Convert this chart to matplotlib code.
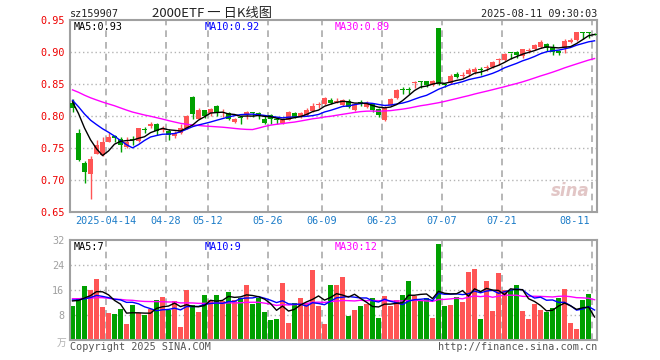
import numpy as np
import pandas as pd
import matplotlib
matplotlib.use("Agg")
import matplotlib.pyplot as plt

plt.rcParams['font.family'] = ['DejaVu Sans Mono', 'Noto Sans CJK SC']

# ---- data (2025-04-03 .. 2025-08-11, 88 trading days) ----
opens = [0.821, 0.774, 0.727, 0.710, 0.741, 0.739, 0.760, 0.768, 0.764, 0.752,
         0.764, 0.761, 0.779, 0.784, 0.788, 0.778, 0.777, 0.768, 0.774, 0.781,
         0.829, 0.796, 0.809, 0.804, 0.815, 0.805, 0.804, 0.791, 0.799, 0.801,
         0.806, 0.804, 0.796, 0.801, 0.795, 0.789, 0.794, 0.804, 0.799, 0.802,
         0.808, 0.817, 0.819, 0.8255, 0.822, 0.817, 0.824, 0.810, 0.821, 0.814,
         0.818, 0.811, 0.794, 0.817, 0.828, 0.841, 0.841, 0.852, 0.854, 0.854,
         0.849, 0.938, 0.850, 0.851, 0.866, 0.863, 0.865, 0.868, 0.873, 0.875,
         0.877, 0.888, 0.888, 0.899, 0.900, 0.893, 0.902, 0.905, 0.908, 0.912,
         0.906, 0.902, 0.906, 0.916, 0.919, 0.931, 0.931, 0.928]
highs = [0.826, 0.780, 0.730, 0.738, 0.763, 0.767, 0.773, 0.770, 0.767, 0.767,
         0.768, 0.782, 0.783, 0.790, 0.789, 0.785, 0.779, 0.777, 0.787, 0.802,
         0.832, 0.813, 0.810, 0.812, 0.817, 0.811, 0.806, 0.797, 0.800, 0.808,
         0.807, 0.806, 0.800, 0.803, 0.797, 0.797, 0.808, 0.806, 0.806, 0.812,
         0.820, 0.822, 0.830, 0.828, 0.828, 0.826, 0.827, 0.820, 0.825, 0.823,
         0.820, 0.813, 0.816, 0.828, 0.842, 0.845, 0.845, 0.854, 0.854, 0.855,
         0.856, 0.938, 0.851, 0.866, 0.869, 0.868, 0.875, 0.876, 0.876, 0.880,
         0.886, 0.890, 0.898, 0.899, 0.901, 0.905, 0.906, 0.912, 0.918, 0.914,
         0.912, 0.903, 0.920, 0.922, 0.932, 0.931, 0.931, 0.929]
lows = [0.806, 0.729, 0.696, 0.670, 0.740, 0.738, 0.759, 0.760, 0.743, 0.750,
        0.755, 0.760, 0.774, 0.781, 0.771, 0.775, 0.763, 0.766, 0.772, 0.779,
        0.796, 0.795, 0.797, 0.800, 0.800, 0.799, 0.793, 0.789, 0.787, 0.795,
        0.798, 0.796, 0.788, 0.787, 0.788, 0.788, 0.793, 0.797, 0.797, 0.800,
        0.806, 0.813, 0.817, 0.818, 0.820, 0.815, 0.812, 0.808, 0.815, 0.812,
        0.806, 0.799, 0.792, 0.815, 0.827, 0.835, 0.835, 0.843, 0.843, 0.845,
        0.847, 0.849, 0.845, 0.850, 0.859, 0.860, 0.863, 0.866, 0.864, 0.870,
        0.875, 0.880, 0.886, 0.889, 0.890, 0.891, 0.898, 0.903, 0.906, 0.901,
        0.896, 0.896, 0.898, 0.914, 0.917, 0.921, 0.922, 0.926]
closes = [0.813, 0.731, 0.713, 0.733, 0.754, 0.760, 0.767, 0.766, 0.755, 0.760,
          0.763, 0.782, 0.778, 0.787, 0.777, 0.780, 0.770, 0.774, 0.782, 0.800,
          0.803, 0.809, 0.800, 0.811, 0.804, 0.806, 0.795, 0.796, 0.797, 0.806,
          0.805, 0.800, 0.789, 0.795, 0.794, 0.794, 0.806, 0.798, 0.804, 0.810,
          0.816, 0.818, 0.828, 0.820, 0.824, 0.825, 0.814, 0.818, 0.820, 0.821,
          0.809, 0.801, 0.813, 0.826, 0.840, 0.840, 0.840, 0.853, 0.853, 0.848,
          0.855, 0.850, 0.849, 0.863, 0.861, 0.864, 0.872, 0.874, 0.872, 0.876,
          0.885, 0.889, 0.897, 0.898, 0.895, 0.904, 0.903, 0.911, 0.915, 0.907,
          0.900, 0.899, 0.917, 0.919, 0.931, 0.930, 0.930, 0.927]
# up / down flag (1 = red) as shown by bar colours
up = [0, 0, 0, 1, 1, 1, 1, 0, 0, 1, 0, 1, 0, 1, 0, 1, 0, 1, 1, 1,
      0, 1, 0, 1, 0, 1, 0, 1, 0, 1, 0, 0, 0, 0, 0, 1, 1, 0, 1, 1,
      1, 1, 1, 0, 1, 1, 0, 1, 0, 1, 0, 0, 1, 1, 1, 0, 0, 1, 0, 0,
      1, 0, 0, 1, 0, 1, 1, 1, 0, 1, 1, 1, 1, 0, 0, 1, 1, 1, 1, 0,
      0, 0, 1, 1, 1, 0, 0, 0]
# volume, 10k lots
volume = [11.0, 13.5, 17.4, 15.9, 19.6, 10.7, 8.7, 8.4, 10.0, 5.2,
          11.3, 8.6, 7.9, 9.9, 12.9, 13.9, 9.7, 12.6, 4.3, 15.9,
          11.3, 9.1, 14.5, 12.7, 14.5, 12.6, 15.5, 12.9, 13.5, 17.7,
          11.6, 13.5, 9.1, 6.5, 6.8, 18.4, 5.5, 11.9, 13.5, 11.6,
          22.5, 11.0, 5.2, 17.7, 17.7, 20.3, 7.8, 9.7, 11.0, 11.6,
          13.5, 7.1, 14.2, 11.0, 12.9, 14.5, 19.0, 14.2, 12.4, 13.5,
          7.1, 30.8, 11.0, 11.3, 13.8, 12.1, 21.9, 22.8, 6.8, 19.0,
          9.4, 21.3, 16.1, 16.1, 17.7, 9.4, 6.8, 11.6, 9.7, 9.1,
          10.4, 13.5, 16.4, 5.3, 3.4, 12.9, 14.8, 0.4]
# earlier sessions, only needed to warm up the moving averages
prev_close = [0.845, 0.850, 0.853, 0.856, 0.858, 0.855, 0.852, 0.857, 0.860, 0.856,
              0.851, 0.848, 0.845, 0.843, 0.846, 0.842, 0.840, 0.844, 0.841, 0.838,
              0.832, 0.826, 0.829, 0.823, 0.825, 0.822, 0.826, 0.825, 0.824]
prev_vol = [14.1, 12.5, 15.8, 13.2, 11.9, 14.6, 16.3, 12.8, 11.4, 13.7,
            15.2, 12.1, 10.9, 13.5, 14.8, 12.6, 11.8, 13.9, 15.1, 12.4,
            13.0, 14.2, 11.6, 12.9, 13.8, 12.7, 13.4, 12.2, 13.2]

tick_pos = [6, 16, 23, 33, 42, 52, 62, 72, 87]
tick_labels = ['2025-04-14', '04-28', '05-12', '05-26', '06-09', '06-23',
               '07-07', '07-21', '08-11']

RED = '#ff5555'
GREEN = '#00a000'
GRID = '#b4b4b4'
BORDER = '#a0a0a0'

n = len(closes)
x = np.arange(n)
cx = x + 0.42

o = np.array(opens); c = np.array(closes); h = np.array(highs); lo = np.array(lows)
cols = [RED if u else GREEN for u in up]

allc = pd.Series(prev_close + closes)
ma5 = allc.rolling(5).mean().values[-n:]
ma10 = allc.rolling(10).mean().values[-n:]
ma30 = allc.rolling(30).mean().values[-n:]
allv = pd.Series(prev_vol + volume)
vma5 = allv.rolling(5).mean().values[-n:]
vma10 = allv.rolling(10).mean().values[-n:]
vma30 = allv.rolling(30).mean().values[-n:]

W, H = 660, 360
fig = plt.figure(figsize=(W / 100, H / 100), dpi=100)
ax1 = fig.add_axes([70 / W, 1 - 212 / H, 527 / W, 192 / H])
ax2 = fig.add_axes([70 / W, 1 - 340 / H, 527 / W, 100 / H])

for ax in (ax1, ax2):
    ax.set_xlim(0, 87.83)
    for s in ax.spines.values():
        s.set_color(BORDER)
        s.set_linewidth(1.5)
    for p in tick_pos:
        ax.axvline(p, color='#aaaaaa', lw=1.2, ls=(0, (4, 3)), zorder=0)
    ax.set_xticks([])

# ---- price panel ----
ax1.set_ylim(0.65, 0.95)
for yv in [0.70, 0.75, 0.80, 0.85, 0.90]:
    ax1.axhline(yv, color=GRID, lw=1, ls=(0, (1, 2)), zorder=0)
ax1.set_yticks([0.65, 0.70, 0.75, 0.80, 0.85, 0.90, 0.95])
ax1.set_yticklabels(['%.2f' % v for v in ax1.get_yticks()])
ax1.tick_params(axis='y', length=0, pad=4, labelsize=7.3, labelcolor='#ee0000')

ax1.vlines(cx, lo, h, colors=cols, lw=1, zorder=2)
body = np.maximum(np.abs(c - o), 0.0016)
ax1.bar(x, body, bottom=np.minimum(o, c), width=0.78, align='edge',
        color=cols, linewidth=0, zorder=3)
ax1.plot(cx, ma30, color='#ff00ff', lw=1, zorder=4)
ax1.plot(cx, ma10, color='#0000ff', lw=1, zorder=4)
ax1.plot(cx, ma5, color='black', lw=1, zorder=5)

for p, t in zip(tick_pos, tick_labels):
    ha = 'right' if p == tick_pos[-1] else 'center'
    xp = p - 0.3 if ha == 'right' else p
    ax1.text(xp, -0.045, t, transform=ax1.get_xaxis_transform(), ha=ha, va='center',
             fontsize=7.3, color='#1c7cc8')

ax1.text(0.007, 0.965, 'MA5:%.2f' % ma5[-1], transform=ax1.transAxes, fontsize=7.3,
         color='black', va='center')
ax1.text((205 - 70) / 527, 0.965, 'MA10:%.2f' % ma10[-1], transform=ax1.transAxes,
         fontsize=7.3, color='#0000ff', va='center')
ax1.text((335 - 70) / 527, 0.965, 'MA30:%.2f' % ma30[-1], transform=ax1.transAxes,
         fontsize=7.3, color='#ff00ff', va='center')
ax1.text(0.985, 0.06, 'sina', transform=ax1.transAxes, ha='right', va='bottom',
         fontsize=12, fontstyle='italic', fontweight='bold', family='DejaVu Sans',
         color='#e2c6c6', zorder=1)

# ---- volume panel ----
ax2.set_ylim(0, 32)
for yv in [8, 16, 24]:
    ax2.axhline(yv, color=GRID, lw=1, ls=(0, (1, 2)), zorder=0)
ax2.set_yticks([8, 16, 24, 32])
ax2.set_yticklabels(['8', '16', '24', '32'])
ax2.tick_params(axis='y', length=0, pad=4, labelsize=7.3, labelcolor='#a0a0a0')
ax2.bar(x, volume, width=0.78, align='edge', color=cols, linewidth=0, zorder=2)
ax2.plot(cx, vma30, color='#ff00ff', lw=1, zorder=4)
ax2.plot(cx, vma10, color='#0000ff', lw=1, zorder=4)
ax2.plot(cx, vma5, color='black', lw=1, zorder=5)

ax2.text(0.007, 0.93, 'MA5:%d' % vma5[-1], transform=ax2.transAxes, fontsize=7.3,
         color='black', va='center')
ax2.text((205 - 70) / 527, 0.93, 'MA10:%d' % vma10[-1], transform=ax2.transAxes,
         fontsize=7.3, color='#0000ff', va='center')
ax2.text((335 - 70) / 527, 0.93, 'MA30:%d' % vma30[-1], transform=ax2.transAxes,
         fontsize=7.3, color='#ff00ff', va='center')

# ---- header / footer text ----
fig.text(70 / W, 1 - 14 / H, 'sz159907', fontsize=7.3, va='center', color='#222222')
fig.text(152 / W, 1 - 14 / H, '2000ETF 一 日K线图', fontsize=9.5, va='center',
         family=['Noto Sans CJK SC', 'DejaVu Sans'], color='#222222')
fig.text(597 / W, 1 - 14 / H, '2025-08-11 09:30:03', fontsize=7.3, va='center',
         ha='right', color='#222222')
fig.text(66 / W, 1 - 343 / H, '万', fontsize=7, va='center', ha='right',
         family=['Noto Sans CJK SC'], color='#b0b0b0')
fig.text(70 / W, 1 - 347 / H, 'Copyright 2025 SINA.COM', fontsize=7.3, va='center',
         color='#555555')
fig.text(597 / W, 1 - 347 / H, 'http://finance.sina.com.cn', fontsize=7.3,
         va='center', ha='right', color='#555555')

fig.savefig('out.png', dpi=100)
